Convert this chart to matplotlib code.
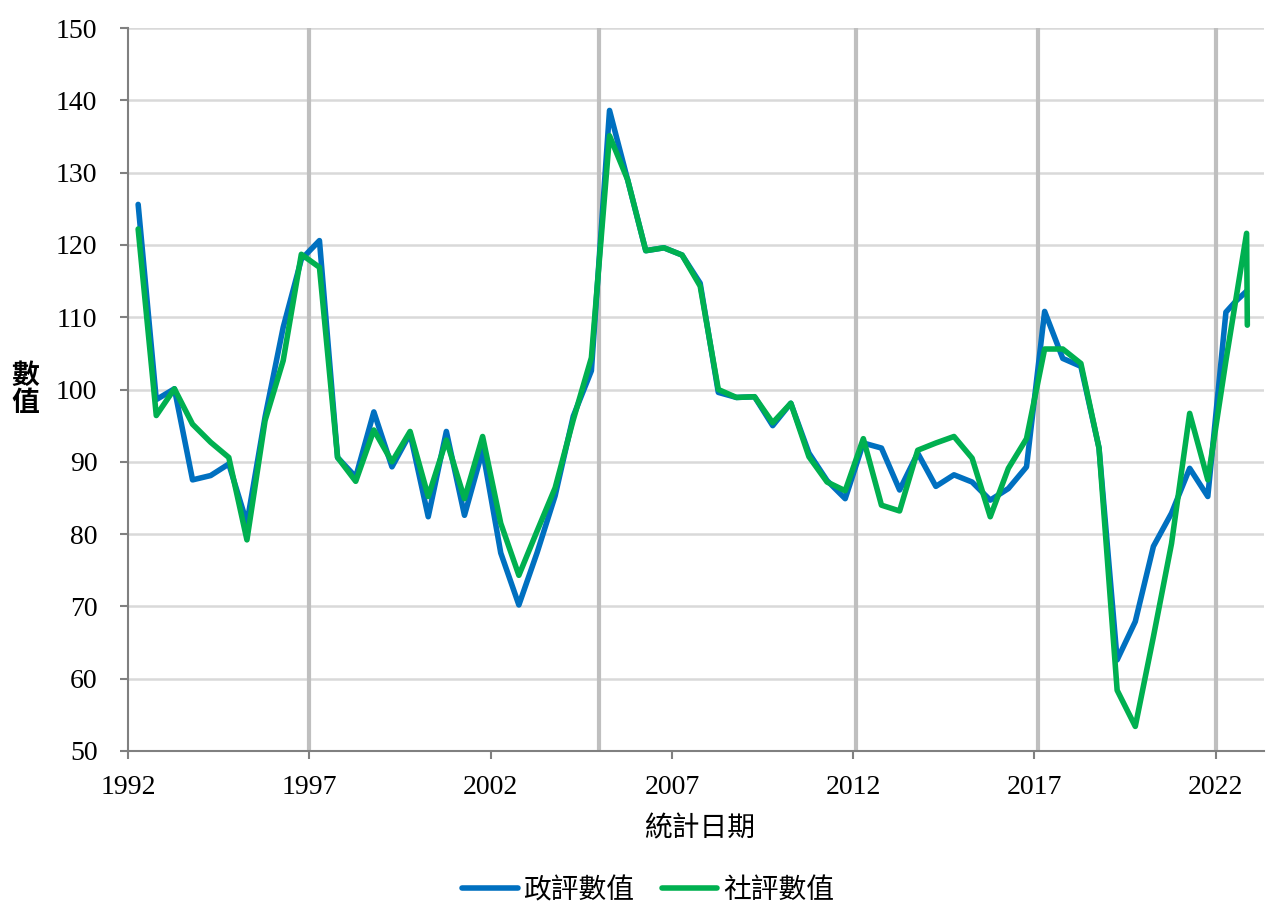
import matplotlib
matplotlib.use("Agg")
import matplotlib.pyplot as plt

plt.rcParams['font.family'] = ['Liberation Serif', 'Noto Sans CJK TC', 'DejaVu Sans']

years = [1992.28 + 0.5 * i for i in range(61)] + [2022.55, 2022.85, 2022.87]

gov = [125.6, 98.6, 100.1, 87.5, 88.1, 89.7, 81.5, 96.2, 108.6, 118.0,
       120.6, 90.6, 87.9, 96.9, 89.3, 93.9, 82.4, 94.2, 82.6, 91.6,
       77.4, 70.2, 77.4, 85.3, 96.3, 102.6, 138.6, 129.0, 119.2, 119.6,
       118.6, 114.7, 99.6, 98.9, 99.0, 95.0, 98.1, 91.2, 87.4, 84.9,
       92.6, 91.9, 86.1, 91.2, 86.6, 88.2, 87.2, 84.7, 86.3, 89.3,
       110.8, 104.3, 103.2, 91.9, 62.6, 67.9, 78.3, 82.9, 89.1, 85.2,
       110.7, 112.2, 113.6, None]

soc = [122.2, 96.4, 100.1, 95.2, 92.7, 90.6, 79.2, 95.7, 104.0, 118.7,
       116.9, 90.6, 87.3, 94.4, 90.0, 94.2, 85.2, 93.0, 84.9, 93.5,
       81.5, 74.3, 80.4, 86.4, 95.8, 104.4, 135.1, 129.0, 119.2, 119.6,
       118.6, 114.3, 100.0, 98.9, 99.0, 95.4, 98.1, 90.7, 87.2, 86.0,
       93.2, 84.0, 83.2, 91.6, 92.6, 93.5, 90.5, 82.4, 89.1, 93.2,
       105.6, 105.6, 103.6, 91.9, 58.4, 53.4, 65.8, 78.7, 96.7, 87.5,
       104.0, None, 121.6, 108.9]

event_lines = [1997.0, 2005.0, 2012.07, 2017.09, 2022.0]
xticks = [1992, 1997, 2002, 2007, 2012, 2017, 2022]
yticks = list(range(50, 151, 10))

series_labels = ['政評數值', '社評數值']
colors = ['#0070C0', '#00B050']

fig = plt.figure(figsize=(12.66, 9.06), dpi=100)
ax = fig.add_axes([128/1266, 155/906, 1136/1266, 723/906])

for yv in yticks:
    ax.axhline(yv, color='#d9d9d9', lw=1.8, zorder=0)
for xv in event_lines:
    ax.axvline(xv, color='#bfbfbf', lw=3, zorder=1)

for vals, lab, c in zip([gov, soc], series_labels, colors):
    xs = [x for x, v in zip(years, vals) if v is not None]
    vs = [v for v in vals if v is not None]
    ax.plot(xs, vs, color=c, lw=4.0, label=lab, solid_joinstyle='round',
            solid_capstyle='round', zorder=3)

ax.set_xlim(1992, 2023.33)
ax.set_ylim(50, 150)
ax.set_xticks(xticks)
ax.set_yticks(yticks)
ax.tick_params(axis='both', labelsize=20, colors='#000000', length=6, width=1.5,
               direction='out', color='#808080')
ax.tick_params(axis='x', pad=11)
ax.tick_params(axis='y', pad=16)
for s in ['top', 'right']:
    ax.spines[s].set_visible(False)
for s in ['left', 'bottom']:
    ax.spines[s].set_color('#808080')
    ax.spines[s].set_linewidth(1.5)

cjk = ['Noto Sans CJK TC', 'DejaVu Sans']
ax.text(-0.0905, 0.5, '數\n值', transform=ax.transAxes, ha='center', va='center',
        fontsize=20, family=cjk, fontweight='bold', linespacing=0.95)
fig.text(700/1266, 1 - 828/906, '統計日期', ha='center', va='center', fontsize=20, family=cjk)

leg = fig.legend(loc='center', bbox_to_anchor=(648/1266, 1 - 890/906), ncol=2, frameon=False,
                 prop={'family': cjk, 'size': 20}, handlelength=2.0, columnspacing=1.0,
                 handletextpad=0.2)

fig.savefig('out.png', dpi=100)
